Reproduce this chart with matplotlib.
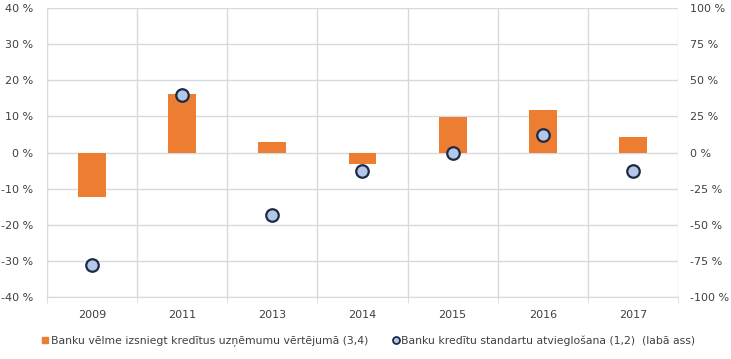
import matplotlib
matplotlib.use("Agg")
import matplotlib.pyplot as plt
from matplotlib.lines import Line2D
import numpy as np

years = ["2009", "2011", "2013", "2014", "2015", "2016", "2017"]
willingness = [-12.2, 16.3, 2.8, -3.3, 9.7, 11.7, 4.2]      # left axis, %
easing = [-78, 39.5, -43, -12.5, 0, 12, -12.5]              # right axis, %

label_bar = "Banku vēlme izsniegt kredītus uzņēmumu vērtējumā (3,4)"
label_dot = "Banku kredītu standartu atvieglošana (1,2)  (labā ass)"

orange = "#ED7D31"
blue_fill = "#B4C7E7"
navy = "#1B2A47"
grid_c = "#D9D9D9"
txt_c = "#404040"

plt.rcParams['font.family'] = ['DejaVu Sans']
fig = plt.figure(figsize=(7.31, 3.59), dpi=100)
ax = fig.add_axes([47/731, 1-297/359, (678-47)/731, (297-8)/359])
ax2 = ax.twinx()

x = np.arange(len(years))
ax.bar(x, willingness, width=0.31, color=orange, zorder=2)
ax2.plot(x, easing, linestyle="none", marker="o", markersize=9,
         markerfacecolor=blue_fill, markeredgecolor=navy, markeredgewidth=1.6, zorder=3)

ax.set_xlim(-0.5, len(years) - 0.5)
ax.set_ylim(-40, 40)
ax2.set_ylim(-100, 100)
ax.set_yticks(np.arange(-40, 41, 10))
ax.set_yticklabels([f"{v} %" for v in range(-40, 41, 10)])
ax2.set_yticks(np.arange(-100, 101, 25))
ax2.set_yticklabels([f"{v} %" for v in range(-100, 101, 25)])
ax.set_xticks(x)
ax.set_xticklabels(years)
ax.set_xticks(np.arange(-0.5, len(years), 1), minor=True)

ax.grid(axis="y", color=grid_c, linewidth=1, zorder=0)
ax.grid(axis="x", which="minor", color=grid_c, linewidth=1, zorder=0)
ax.set_axisbelow(True)

for a in (ax, ax2):
    for s in a.spines.values():
        s.set_visible(False)
ax.spines["bottom"].set_visible(True)
ax.spines["bottom"].set_color(grid_c)
ax.spines["left"].set_visible(True)
ax.spines["left"].set_color(grid_c)

ax.tick_params(axis="y", length=0, pad=10, labelsize=8, labelcolor=txt_c)
ax2.tick_params(axis="y", length=0, pad=9, labelsize=8, labelcolor=txt_c)
ax.tick_params(axis="x", which="major", length=0, pad=9, labelsize=8, labelcolor=txt_c)
ax.tick_params(axis="x", which="minor", length=4, color=grid_c)

h1 = Line2D([], [], linestyle="none", marker="s", markersize=5, color=orange)
h2 = Line2D([], [], linestyle="none", marker="o", markersize=5,
            markerfacecolor=blue_fill, markeredgecolor=navy, markeredgewidth=1.3)
fig.legend([h1], [label_bar], loc="center left", bbox_to_anchor=(42/731, 1-341/359),
           frameon=False, fontsize=7.8, handlelength=0.6, handletextpad=0.2,
           labelcolor=txt_c, borderpad=0, borderaxespad=0)
fig.legend([h2], [label_dot], loc="center left", bbox_to_anchor=(393/731, 1-341/359),
           frameon=False, fontsize=7.8, handlelength=0.6, handletextpad=0.1,
           labelcolor=txt_c, borderpad=0, borderaxespad=0)

fig.savefig("out.png", dpi=100)
